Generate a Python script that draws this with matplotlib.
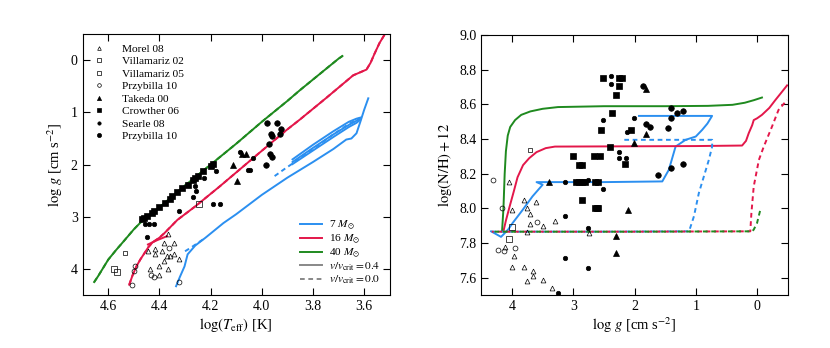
import numpy as np
import matplotlib
matplotlib.use('Agg')
import matplotlib.pyplot as plt

plt.rcParams['font.family'] = ['Liberation Serif', 'DejaVu Serif']
plt.rcParams['mathtext.fontset'] = 'stix'
plt.rcParams['lines.scale_dashes'] = False

# ---- left panel: tracks in the Kiel diagram (log Teff, log g)
teff40 = [4.655, 4.64, 4.62, 4.60, 4.57, 4.54, 4.50, 4.47, 4.44, 4.40, 4.35, 4.30, 4.25,
          4.20, 4.15, 4.10, 4.05, 4.00, 3.95, 3.90, 3.85, 3.80, 3.75, 3.70, 3.685]
logg40 = [4.25, 4.14, 3.98, 3.82, 3.64, 3.47, 3.24, 3.09, 2.97, 2.82, 2.61, 2.40, 2.20,
          2.00, 1.80, 1.60, 1.39, 1.18, 0.98, 0.78, 0.57, 0.37, 0.17, -0.03, -0.08]

teff16 = [4.518, 4.505, 4.49, 4.475, 4.459, 4.443, 4.427, 4.40, 4.38, 4.33, 4.26, 4.165,
          4.035, 3.904, 3.852, 3.75, 3.643, 3.61, 3.591, 3.575, 3.56, 3.54, 3.519]
logg16 = [4.30, 4.12, 3.95, 3.82, 3.70, 3.58, 3.49, 3.40, 3.31, 3.06, 2.80, 2.42,
          1.88, 1.34, 1.14, 0.73, 0.29, 0.22, 0.18, 0.05, -0.12, -0.33, -0.5]
teff16_hook = [4.445, 4.41, 4.37]
logg16_hook = [3.53, 3.45, 3.37]

teff7 = [4.335, 4.32, 4.302, 4.29, 4.26, 4.22, 4.15, 4.10, 4.00, 3.90, 3.80, 3.72, 3.67,
         3.65, 3.63, 3.615, 3.60, 3.584]
logg7 = [4.33, 4.15, 3.95, 3.72, 3.55, 3.40, 3.12, 2.95, 2.58, 2.25, 1.95, 1.70, 1.52,
         1.50, 1.40, 1.18, 0.95, 0.73]
teff7_loop = [3.88, 3.80, 3.72, 3.66, 3.63, 3.615]
logg7_loop_a = [1.90, 1.62, 1.36, 1.18, 1.12, 1.10]
logg7_loop_b = [1.95, 1.68, 1.42, 1.24, 1.16, 1.12]
logg7_loop_c = [1.99, 1.73, 1.47, 1.28, 1.20, 1.14]
teff7_dash = [3.95, 3.91, 3.88, 3.80, 3.72, 3.66, 3.62]
logg7_dash = [2.22, 2.08, 1.98, 1.70, 1.42, 1.22, 1.12]
teff7_hook = [4.30, 4.28, 4.25, 4.22]
logg7_hook = [3.66, 3.60, 3.50, 3.40]

# ---- left panel: observations
morel_teff = [4.365, 4.345, 4.383, 4.443, 4.416, 4.391, 4.417, 4.370, 4.357, 4.344,
              4.325, 4.40, 4.437, 4.365, 4.40, 4.383]
morel_logg = [3.33, 3.50, 3.50, 3.65, 3.62, 3.66, 3.71, 3.76, 3.76, 3.71,
              3.81, 3.95, 4.00, 4.00, 4.11, 3.85]
vill02_teff = [4.533]
vill02_logg = [3.70]
vill05_teff = [4.579, 4.564, 4.244]
vill05_logg = [4.00, 4.05, 2.75]
przo_teff = [4.361, 4.495, 4.50, 4.433, 4.423, 4.509, 4.325]
przo_logg = [3.60, 3.95, 4.04, 4.11, 4.15, 4.30, 4.24]
takeda_teff = [4.063, 4.076, 4.113, 4.098]
takeda_logg = [1.80, 1.80, 2.01, 2.31]
crow_teff = [4.47, 4.46, 4.45, 4.43, 4.42, 4.40, 4.38, 4.36, 4.35, 4.33, 4.31, 4.29,
             4.27, 4.26, 4.25, 4.23, 4.20, 4.19]
crow_logg = [3.05, 3.02, 2.98, 2.92, 2.88, 2.82, 2.73, 2.65, 2.60, 2.52, 2.45, 2.39,
             2.30, 2.25, 2.21, 2.13, 2.02, 1.99]
searle_teff = [4.45, 4.456, 4.44, 4.42, 4.322, 4.27, 4.257, 4.263, 4.224, 4.178,
               4.191, 4.162, 4.084, 4.054, 4.045, 4.035]
searle_logg = [3.38, 3.14, 3.14, 3.14, 2.89, 2.63, 2.50, 2.41, 2.26, 2.13,
               2.75, 2.75, 1.75, 2.10, 2.10, 1.87]
przf_teff = [3.978, 3.941, 3.926, 3.93, 3.965, 3.962, 3.972, 3.969, 3.962, 3.982]
przf_logg = [1.21, 1.21, 1.31, 1.41, 1.42, 1.46, 1.61, 1.80, 1.86, 2.01]

# ---- right panel: nitrogen vs log g
g40_logg = [4.163, 4.14, 4.12, 4.10, 4.07, 4.03, 3.95, 3.85, 3.70, 3.50, 3.25, 2.5,
            1.5, 0.8, 0.4, 0.2, 0.05, -0.08]
g40_nh = [7.868, 8.00, 8.20, 8.33, 8.42, 8.47, 8.51, 8.54, 8.56, 8.575, 8.585, 8.59,
          8.59, 8.592, 8.598, 8.61, 8.625, 8.64]
g16_logg = [4.14, 4.10, 4.04, 3.97, 3.91, 3.82, 3.72, 3.60, 3.45, 3.30, 2.5, 1.0,
            0.244, 0.18, 0.136, 0.08, 0.054, 0.0, -0.08, -0.2, -0.3, -0.4, -0.49]
g16_nh = [7.868, 7.93, 8.01, 8.10, 8.18, 8.25, 8.29, 8.325, 8.348, 8.357, 8.358, 8.36,
          8.363, 8.39, 8.434, 8.48, 8.51, 8.52, 8.54, 8.58, 8.626, 8.67, 8.71]
g7_logg = [4.342, 4.25, 4.18, 4.14, 4.06, 3.99, 3.83, 3.665, 3.50, 3.60, 2.5, 1.547,
           1.44, 1.33, 1.167, 1.0, 0.897, 0.81, 0.734, 1.928]
g7_nh = [7.868, 7.85, 7.836, 7.85, 7.88, 7.916, 7.99, 8.07, 8.137, 8.152, 8.152, 8.156,
         8.223, 8.357, 8.396, 8.415, 8.453, 8.49, 8.534, 8.534]

d7_logg = [4.33, 2.5, 1.11, 1.03, 0.95, 0.868, 0.787, 0.733, 0.733, 2.226]
d7_nh = [7.866, 7.866, 7.868, 7.955, 8.089, 8.185, 8.28, 8.357, 8.396, 8.396]
d16_logg = [4.33, 2.0, 0.11, 0.092, 0.054, -0.03, -0.11, -0.245, -0.35, -0.49]
d16_nh = [7.866, 7.866, 7.868, 7.974, 8.127, 8.28, 8.357, 8.473, 8.568, 8.626]
d40_logg = [4.33, 2.0, 0.08, 0.054, 0.0, -0.054]
d40_nh = [7.866, 7.866, 7.868, 7.878, 7.916, 7.993]

r_morel_g = [4.055, 3.80, 3.61, 4.0, 3.756, 3.70, 3.70, 3.50, 3.295, 3.756, 4.11, 3.96,
             4.006, 3.80, 3.653, 3.653, 3.76, 3.50, 3.35, 2.75]
r_morel_n = [8.152, 8.05, 8.035, 7.989, 8.003, 7.97, 7.91, 7.90, 7.93, 7.866, 7.778, 7.728,
             7.663, 7.663, 7.638, 7.61, 7.58, 7.59, 7.542, 7.86]
r_vill02_g = [3.70]
r_vill02_n = [8.338]
r_vill05_g = [4.006, 4.055]
r_vill05_n = [7.893, 7.824]
r_przo_g = [4.305, 4.163, 3.60, 4.223, 4.125, 3.95]
r_przo_n = [8.162, 8.003, 7.922, 7.763, 7.753, 7.77]
r_takeda_g = [1.81, 1.81, 2.01, 2.106, 2.307, 2.307, 3.39]
r_takeda_n = [8.689, 8.43, 8.377, 7.993, 7.84, 7.744, 8.15]
r_crow_g = [2.51, 2.253, 2.21, 2.253, 2.307, 2.362, 2.551, 2.063, 2.405, 2.66, 2.56, 3.0,
            2.155, 2.9, 2.86, 2.95, 2.904, 2.86, 2.81, 2.65, 2.6, 2.85, 2.65, 2.6, 2.62]
r_crow_n = [8.754, 8.754, 8.754, 8.706, 8.655, 8.553, 8.453, 8.453, 8.354, 8.304, 8.304, 8.304,
            8.256, 8.252, 8.252, 8.15, 8.15, 8.15, 8.15, 8.15, 8.15, 8.05, 8.0, 8.0, 8.0]
r_searle_g = [2.39, 2.39, 2.51, 2.253, 2.253, 2.135, 2.118, 3.13, 2.757, 2.513, 2.757,
              2.757, 3.13, 3.13, 3.256, 2.01]
r_searle_n = [8.764, 8.72, 8.511, 8.323, 8.294, 8.294, 8.443, 8.15, 8.166, 8.112, 7.888,
              7.657, 7.955, 7.715, 7.514, 8.524]
r_przf_g = [1.86, 1.81, 1.755, 1.456, 1.412, 1.412, 1.304, 1.207, 1.412, 1.207, 1.61]
r_przf_n = [8.706, 8.486, 8.472, 8.463, 8.582, 8.521, 8.549, 8.563, 8.233, 8.256, 8.194]

c7 = '#2b8ff0'
c16 = '#e3174a'
c40 = '#1f8a1f'
dash = (0, (3.4, 2.6))
lw = 1.4

fig = plt.figure(figsize=(8.3, 3.48), dpi=100)
ax1 = fig.add_axes([0.0996, 0.152, 0.370, 0.750])
ax2 = fig.add_axes([0.580, 0.152, 0.369, 0.747])

# left panel tracks
ax1.plot(teff40, logg40, color=c40, lw=lw)
ax1.plot(teff40, logg40, color=c40, lw=lw, ls=dash)
ax1.plot(teff16, logg16, color=c16, lw=lw)
ax1.plot(teff16, logg16, color=c16, lw=lw, ls=dash)
ax1.plot(teff16_hook, logg16_hook, color=c16, lw=lw)
ax1.plot(teff7, logg7, color=c7, lw=lw)
ax1.plot(teff7_loop, logg7_loop_a, color=c7, lw=lw)
ax1.plot(teff7_loop, logg7_loop_b, color=c7, lw=lw)
ax1.plot(teff7_loop, logg7_loop_c, color=c7, lw=lw)
ax1.plot(teff7_dash, logg7_dash, color=c7, lw=lw, ls=dash)
ax1.plot(teff7_hook, logg7_hook, color=c7, lw=lw, ls=dash)

def obs(ax, x, y, marker, ms, filled, label=None):
    fc = 'k' if filled else 'none'
    return ax.plot(x, y, ls='none', marker=marker, ms=ms, mfc=fc, mec='k', mew=0.5,
                   label=label)[0]

h = []
h.append(obs(ax1, morel_teff, morel_logg, '^', 3.5, False, 'Morel 08'))
h.append(obs(ax1, vill02_teff, vill02_logg, 's', 3.2, False, 'Villamariz 02'))
h.append(obs(ax1, vill05_teff, vill05_logg, 's', 3.8, False, 'Villamariz 05'))
h.append(obs(ax1, przo_teff, przo_logg, 'o', 3.5, False, 'Przybilla 10'))
h.append(obs(ax1, takeda_teff, takeda_logg, '^', 4, True, 'Takeda 00'))
h.append(obs(ax1, crow_teff, crow_logg, 's', 4, True, 'Crowther 06'))
h.append(obs(ax1, searle_teff, searle_logg, 'o', 3.2, True, 'Searle 08'))
h.append(obs(ax1, przf_teff, przf_logg, 'o', 4, True, 'Przybilla 10'))

leg1 = ax1.legend(handles=h, loc='upper left', frameon=False, fontsize=8.2,
                  markerscale=0.75, handlelength=1.2, handletextpad=1.4,
                  labelspacing=0.22, bbox_to_anchor=(0.0, 1.0), borderaxespad=0.45)
ax1.add_artist(leg1)

lh = [plt.Line2D([], [], color=c7, lw=lw, label=r'7 $M_{\odot}$'),
      plt.Line2D([], [], color=c16, lw=lw, label=r'16 $M_{\odot}$'),
      plt.Line2D([], [], color=c40, lw=lw, label=r'40 $M_{\odot}$'),
      plt.Line2D([], [], color='#888888', lw=lw, label=r'$v/v_{\rm crit}=0.4$'),
      plt.Line2D([], [], color='#888888', lw=lw, ls=dash, label=r'$v/v_{\rm crit}=0.0$')]
ax1.legend(handles=lh, loc='lower right', frameon=False, fontsize=8.2,
           handlelength=2.0, handletextpad=0.6, labelspacing=0.05,
           borderaxespad=0.4)

ax1.set_xlim(4.7, 3.5)
ax1.set_ylim(4.5, -0.5)
ax1.set_xticks([4.6, 4.4, 4.2, 4.0, 3.8, 3.6])
ax1.set_yticks([0, 1, 2, 3, 4])
ax1.set_xlabel(r'$\log(T_{\rm eff})$ [K]', fontsize=10.5, labelpad=2)
ax1.set_ylabel(r'$\log\,g$ [cm s$^{-2}$]', fontsize=10.5, labelpad=4)

# right panel tracks
ax2.plot(g7_logg, g7_nh, color=c7, lw=lw)
ax2.plot(g16_logg, g16_nh, color=c16, lw=lw)
ax2.plot(g40_logg, g40_nh, color=c40, lw=lw)
ax2.plot(d7_logg, d7_nh, color=c7, lw=lw, ls=(0, (3.4, 2.6)))
ax2.plot(d16_logg, d16_nh, color=c16, lw=lw, ls=(2, (3.4, 2.6)))
ax2.plot(d40_logg, d40_nh, color=c40, lw=lw, ls=(4, (3.4, 2.6)))

obs(ax2, r_morel_g, r_morel_n, '^', 3.5, False)
obs(ax2, r_vill02_g, r_vill02_n, 's', 3.2, False)
obs(ax2, r_vill05_g, r_vill05_n, 's', 3.8, False)
obs(ax2, r_przo_g, r_przo_n, 'o', 3.5, False)
obs(ax2, r_takeda_g, r_takeda_n, '^', 4, True)
obs(ax2, r_crow_g, r_crow_n, 's', 4, True)
obs(ax2, r_searle_g, r_searle_n, 'o', 3.2, True)
obs(ax2, r_przf_g, r_przf_n, 'o', 4, True)

ax2.set_xlim(4.5, -0.5)
ax2.set_ylim(7.5, 9.0)
ax2.set_xticks([4, 3, 2, 1, 0])
ax2.set_yticks(np.arange(7.6, 9.01, 0.2))
ax2.set_xlabel(r'$\log\,g$ [cm s$^{-2}$]', fontsize=10.5, labelpad=2)
ax2.set_ylabel(r'$\log(\mathrm{N/H}) + 12$', fontsize=10.5, labelpad=4)

for ax in (ax1, ax2):
    ax.tick_params(direction='in', top=True, right=True, length=5, width=0.8,
                   labelsize=10)
    for s in ax.spines.values():
        s.set_linewidth(0.8)

fig.savefig('out.png', dpi=100)
